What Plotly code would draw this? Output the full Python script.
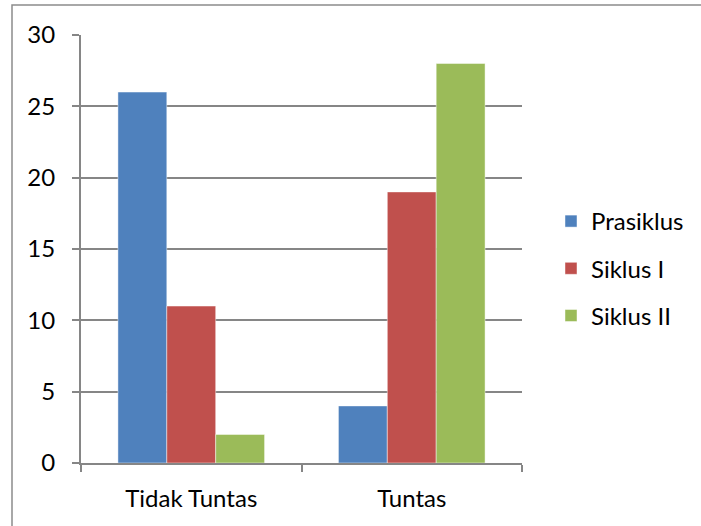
import plotly.graph_objects as go

categories = ["Tidak Tuntas", "Tuntas"]
series_names = ["Prasiklus", "Siklus I", "Siklus II"]
prasiklus = [26, 4]
siklus1 = [11, 19]
siklus2 = [2, 28]
colors = ["#4F81BD", "#C0504D", "#9BBB59"]

fig = go.Figure()
for i, (name, vals) in enumerate(zip(series_names, [prasiklus, siklus1, siklus2])):
    fig.add_trace(go.Bar(
        x=categories, y=vals, name=name, legendgroup=name,
        marker=dict(color=colors[i], line=dict(color="rgba(255,255,255,0.45)", width=1)),
    ))

L, R, T, B = 81, 179, 35, 63
W, H = 701, 526
pw, ph = W - L - R, H - T - B

font = dict(family="Lato, Carlito, Calibri, sans-serif", size=24, color="#000000")

fig.update_layout(
    width=W, height=H, autosize=False,
    margin=dict(l=L, r=R, t=T, b=B, pad=0),
    paper_bgcolor="white", plot_bgcolor="white",
    barmode="group", bargap=0.335, bargroupgap=0,
    font=font,
    showlegend=True,
    legend=dict(x=(551 - L) / pw, y=(463 - 199) / ph, xanchor="left", yanchor="top",
                traceorder="grouped", tracegroupgap=13, font=font,
                itemwidth=30, bgcolor="rgba(0,0,0,0)"),
    xaxis=dict(showgrid=False, showline=True, linecolor="#868686", linewidth=2,
               ticks="outside", ticklen=7, tickcolor="#868686", tickwidth=2,
               tickson="boundaries", ticklabelstandoff=13, tickfont=font),
    yaxis=dict(range=[0, 30], dtick=5, showgrid=True, gridcolor="#868686", gridwidth=1.5,
               showline=True, linecolor="#868686", linewidth=2, zeroline=False,
               ticks="outside", ticklen=7, tickcolor="#868686", tickwidth=2,
               ticklabelstandoff=12, tickfont=font),
    shapes=[dict(type="rect", xref="paper", yref="paper",
                 x0=(12 - L) / pw, x1=(706 - L) / pw,
                 y0=(H - B - 531) / ph, y1=1 + (T - 5) / ph,
                 line=dict(color="#8c8c8c", width=1.5), layer="below")],
)

fig.write_html("out.html")
